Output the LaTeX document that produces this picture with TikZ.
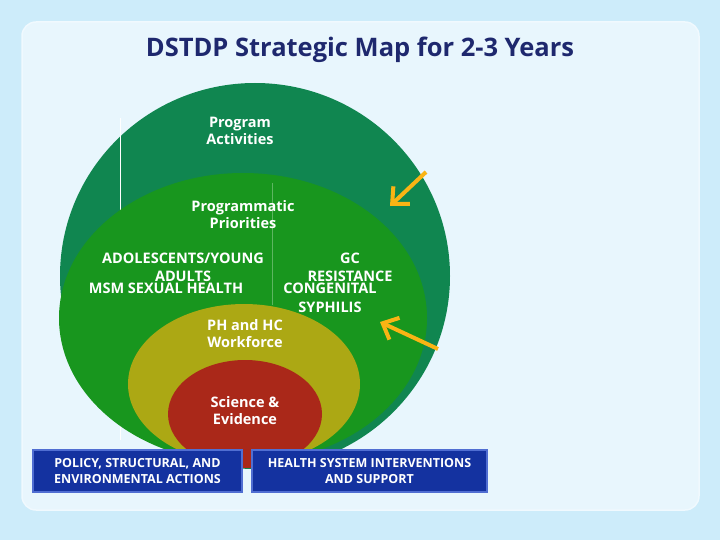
\documentclass[tikz,border=0pt]{standalone}
\usepackage{fontspec}
\setmainfont{Open Sans}
\usetikzlibrary{arrows.meta}
\definecolor{bgblue}{RGB}{205,236,250}
\definecolor{cardbg}{RGB}{232,246,253}
\definecolor{titleblue}{RGB}{30,40,110}
\definecolor{outg}{RGB}{16,134,80}
\definecolor{midg}{RGB}{24,150,30}
\definecolor{yel}{RGB}{172,168,20}
\definecolor{redc}{RGB}{170,40,25}
\definecolor{boxblue}{RGB}{20,50,160}
\definecolor{boxedge}{RGB}{80,110,210}
\definecolor{arr}{RGB}{250,180,20}
\tikzset{
  lbl/.style={text=white,font=\bfseries\fontsize{14.5}{17}\selectfont,align=center,inner sep=0pt},
  boxlbl/.style={text=white,font=\bfseries\fontsize{12.5}{16}\selectfont,align=center},
  bluebox/.style={fill=boxblue,draw=boxedge,line width=1.5pt},
  yarrow/.style={draw=arr,line width=4pt,-{Straight Barb[length=13pt,width=24pt]}}
}
\begin{document}
\begin{tikzpicture}[x=1pt,y=-1pt]
\fill[bgblue] (0,0) rectangle (720,540);
\useasboundingbox (0,0) rectangle (720,540);
\filldraw[fill=cardbg,draw=white!70!bgblue,line width=1.5pt,rounded corners=14pt] (22,22) rectangle (699,510);
\node[text=titleblue,font=\bfseries\fontsize{25.5}{30}\selectfont] (title) at (360,50) {DSTDP Strategic Map for 2-3 Years};
\fill[outg] (255,276) ellipse [x radius=195, y radius=193];
\draw[white,line width=0.6pt] (120,118) -- (120,440);
\fill[midg] (243,318) ellipse [x radius=184, y radius=145];
\draw[white!30!midg,line width=0.5pt] (272,183) -- (272,305);
\fill[yel] (244,384) ellipse [x radius=116, y radius=80];
\fill[redc] (245,414) ellipse [x radius=77, y radius=54];
\node[lbl] (pa) at (240,131) {Program\\Activities};
\node[lbl] (pp) at (243,215) {Programmatic\\Priorities};
\node[lbl] (ado) at (183,258) {ADOLESCENTS/YOUNG};
\node[lbl] (adu) at (183,276) {ADULTS};
\node[lbl] (msm) at (166,288) {MSM SEXUAL HEALTH};
\node[lbl] (gc) at (350,258) {GC};
\node[lbl] (res) at (350,276) {RESISTANCE};
\node[lbl] (cong) at (330,288) {CONGENITAL};
\node[lbl] (syph) at (330,307) {SYPHILIS};
\node[lbl] (ph) at (245,334) {PH and HC\\Workforce};
\node[lbl] (sci) at (245,411) {Science \&\\Evidence};
\node[bluebox,minimum width=209pt,minimum height=42pt,boxlbl] (b1) at (137.5,471) {POLICY, STRUCTURAL, AND\\ENVIRONMENTAL ACTIONS};
\node[bluebox,minimum width=235pt,minimum height=42pt,boxlbl] (b2) at (369.5,471) {HEALTH SYSTEM INTERVENTIONS\\AND SUPPORT};
\coordinate (a1s) at (426,172);
\coordinate (a1e) at (390,206);
\coordinate (a2s) at (438,349);
\coordinate (a2e) at (380,322);
\draw[yarrow] (a1s) -- (a1e);
\draw[yarrow] (a2s) -- (a2e);
\end{tikzpicture}
\end{document}
